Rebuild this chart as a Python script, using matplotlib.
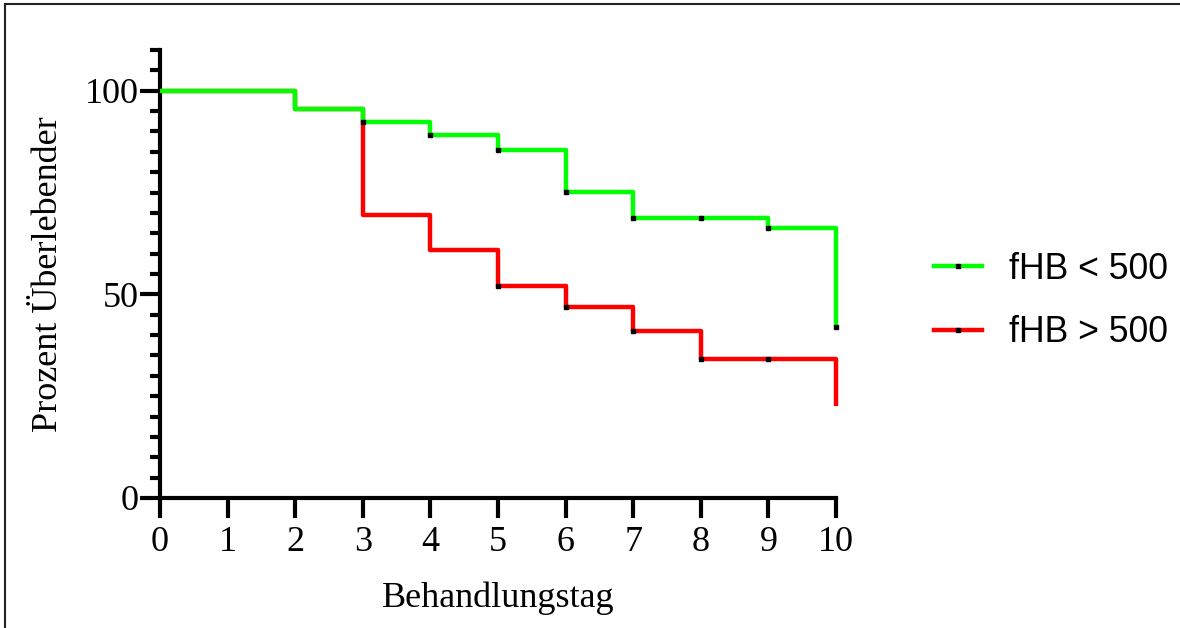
import numpy as np
import matplotlib
matplotlib.use('Agg')
import matplotlib.pyplot as plt
from matplotlib.lines import Line2D
from matplotlib.patches import Rectangle
from matplotlib.ticker import MultipleLocator

plt.rcParams.update({'font.family': 'Liberation Serif', 'font.size': 26})

# survival steps (day, percent) for each group
days_lo = [0, 2, 3, 4, 5, 6, 7, 9, 10]
surv_lo = [100, 95.6, 92.4, 89.2, 85.5, 75.2, 68.8, 66.4, 42.0]
days_hi = [0, 2, 3, 4, 5, 6, 7, 8, 10]
surv_hi = [100, 95.4, 69.5, 60.8, 52.0, 46.9, 41.1, 34.2, 22.7]

# censored observations
cens_lo_x = [3, 4, 5, 6, 7, 8, 9, 10]
cens_lo_y = [92.4, 89.2, 85.5, 75.2, 68.8, 68.8, 66.4, 42.0]
cens_hi_x = [5, 6, 7, 8, 9]
cens_hi_y = [52.0, 46.9, 41.1, 34.2, 34.2]

labels = ['fHB < 500', 'fHB > 500']
c_lo = '#00ff00'
c_hi = '#ff0000'

fig = plt.figure(figsize=(11.8, 6.28), dpi=100)
ax = fig.add_axes([160/1180, 1 - 498/628, 676/1180, 448/628])

ax.step(days_hi, surv_hi, where='post', color=c_hi, lw=3.2, solid_capstyle='butt',
        zorder=3, clip_on=False)
ax.step(days_lo, surv_lo, where='post', color=c_lo, lw=3.2, solid_capstyle='butt',
        zorder=4, clip_on=False)
ax.plot(cens_hi_x, cens_hi_y, ls='none', marker='s', ms=3.4, color='k', zorder=5, clip_on=False)
ax.plot(cens_lo_x, cens_lo_y, ls='none', marker='s', ms=3.4, color='k', zorder=5, clip_on=False)

ax.set_xlim(0, 10)
ax.set_ylim(0, 110)
ax.set_xticks(range(0, 11))
ax.set_yticks([0, 50, 100])
ax.yaxis.set_minor_locator(MultipleLocator(5))
for s in ['top', 'right']:
    ax.spines[s].set_visible(False)
for s in ['left', 'bottom']:
    ax.spines[s].set_linewidth(3)
    ax.spines[s].set_clip_on(False)
ax.tick_params(which='major', length=14.5, width=3, direction='out')
ax.tick_params(axis='y', which='minor', length=7.5, width=3)
ax.tick_params(axis='y', pad=1)
ax.tick_params(axis='x', pad=6)

ax.set_xlabel('Behandlungstag', labelpad=16)
ax.set_ylabel('Prozent Überlebender', labelpad=14)

handles = [
    Line2D([], [], color=c_lo, lw=3.2, marker='s', ms=3.4, mfc='k', mec='k'),
    Line2D([], [], color=c_hi, lw=3.2, marker='s', ms=3.4, mfc='k', mec='k'),
]
fig.legend(handles, labels, loc='center left', bbox_to_anchor=(902/1180, 1 - 301/628),
           frameon=False, numpoints=1, handlelength=1.35, handletextpad=0.75,
           labelspacing=0.8, prop={'family': 'Liberation Sans', 'size': 25.7})

fig.patches.append(Rectangle((5/1180, -0.1), 1.2, 1.1 - 4/628, transform=fig.transFigure,
                             fill=False, edgecolor='#222222', lw=1.5))

fig.savefig('out.png', dpi=100)
